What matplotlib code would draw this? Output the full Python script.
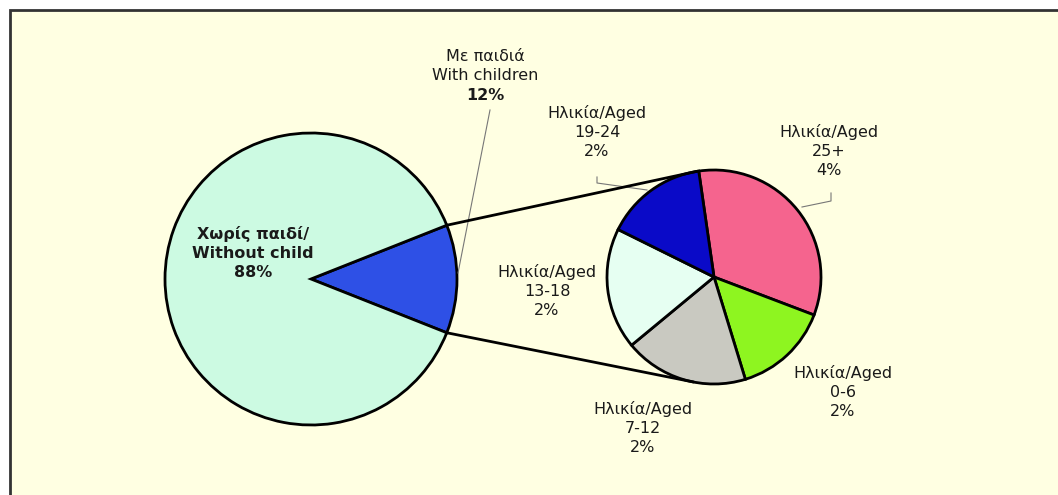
import matplotlib
matplotlib.use("Agg")
import matplotlib.pyplot as plt
from matplotlib.patches import Rectangle
import numpy as np

# ---- data ----
main_labels = ["Με παιδιά\nWith children", "Χωρίς παιδί/\nWithout child"]
main_values = [12, 88]
sub_labels = ["25+", "0-6", "7-12", "13-18", "19-24"]
sub_values = [3.97, 1.74, 2.25, 2.20, 1.85]

main_colors = ["#2E50E6", "#CCFAE2"]
sub_colors = ["#F5648E", "#8EF520", "#C9C9C1", "#E6FFF2", "#0A0AC8"]

W, H = 1058, 495
fig = plt.figure(figsize=(W / 100, H / 100), dpi=100)
fig.patch.set_facecolor("white")
ax = fig.add_axes([0, 0, 1, 1])

def Y(py):
    return H - py

wp = dict(edgecolor="black", linewidth=2)

# main pie
c1, r1 = (311, Y(279)), 146
half = main_values[0] / 100 * 360 / 2
ax.pie(main_values, colors=main_colors, startangle=-half, center=c1,
       radius=r1, wedgeprops=wp, frame=True)

# sub pie
c2, r2 = (714, Y(277)), 107
ax.pie(sub_values, colors=sub_colors, startangle=98.2, counterclock=False,
       center=c2, radius=r2, wedgeprops=wp, frame=True)

ax.set_xlim(0, W)
ax.set_ylim(0, H)
ax.set_aspect("equal")
ax.axis("off")

# frame: fill plus only the left and top edges (others run off the picture)
ax.add_patch(Rectangle((10, 0), W, Y(10), facecolor="#FFFFE2",
                       edgecolor="none", zorder=0))
ax.plot([10, 10, W + 5], [0, Y(10), Y(10)], color="#333333", lw=2,
        zorder=0.5, solid_joinstyle="miter")

# connector lines
for a1, a2 in [(half, 99.5), (-half, -101.5)]:
    x1 = c1[0] + r1 * np.cos(np.radians(a1))
    y1 = c1[1] + r1 * np.sin(np.radians(a1))
    x2 = c2[0] + r2 * np.cos(np.radians(a2))
    y2 = c2[1] + r2 * np.sin(np.radians(a2))
    ax.plot([x1, x2], [y1, y2], color="black", lw=2, zorder=5)

fs = 11.5
tk = dict(ha="center", va="center", fontsize=fs, color="#1a1a1a",
          linespacing=1.3, family="DejaVu Sans", zorder=6)

# main labels
ax.text(485, Y(66), main_labels[0], **tk)
ax.text(485, Y(96), f"{main_values[0]}%", fontweight="bold", **tk)
ax.text(253, Y(253), main_labels[1] + f"\n{main_values[1]}%",
        fontweight="bold", **tk)

# sub labels
pos = {"25+": (829, 151), "0-6": (843, 392), "7-12": (643, 428),
       "13-18": (547, 291), "19-24": (597, 132)}
for lab, val in zip(sub_labels, sub_values):
    x, y = pos[lab]
    ax.text(x, Y(y), f"Ηλικία/Aged\n{lab}\n{val:.0f}%", **tk)

# leader lines
lk = dict(color="#777777", lw=0.8, zorder=4)
ax.plot([490, 458], [Y(110), Y(273)], **lk)
ax.plot([597, 597, 647], [Y(177), Y(183), Y(190)], **lk)
ax.plot([831, 831, 802], [Y(193), Y(201), Y(207)], **lk)

fig.savefig("out.png", dpi=100, facecolor=fig.get_facecolor())
